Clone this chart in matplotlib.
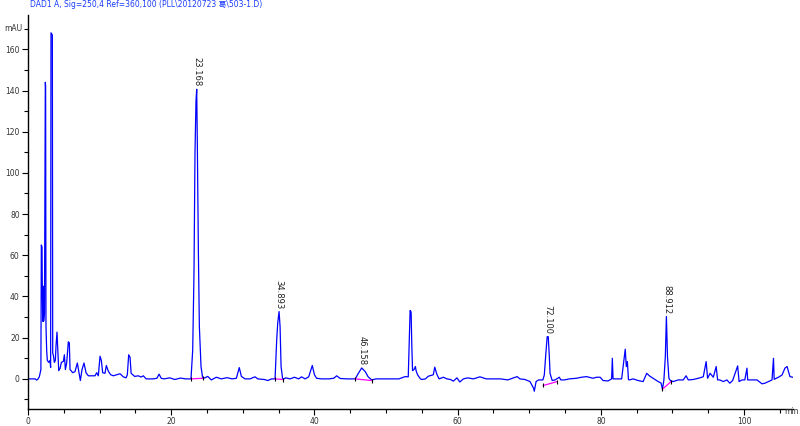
import numpy as np
import matplotlib
matplotlib.use("Agg")
import matplotlib.pyplot as plt
from matplotlib.ticker import MultipleLocator

# chromatogram trace (min, mAU)
time_min = [
    0, 1.0, 1.21, 1.4, 1.58, 1.80, 1.86, 1.96, 2.0, 2.05, 2.12, 2.18, 2.30, 2.42, 2.46, 2.51, 2.61, 2.70,
    2.89, 3.07, 3.16, 3.21, 3.40, 3.45, 3.54, 3.68, 3.82, 3.91, 4.05, 4.15, 4.29, 4.47, 4.66, 4.94, 5.08,
    5.22, 5.40, 5.63, 5.77, 5.87, 6.01, 6.24, 6.56, 6.89, 7.12, 7.31, 7.54, 7.82, 8.10, 8.43, 8.89, 9.36,
    9.59, 9.82, 10.06, 10.24, 10.43, 10.75, 10.94, 11.22, 11.55, 11.92, 12.38, 12.85, 13.31, 13.69, 13.87,
    14.06, 14.25, 14.4, 14.9, 15.4, 15.8, 16.1, 16.5, 17.5, 18.0, 18.3, 18.6, 19.0, 19.8, 20.5, 21.3, 22.0,
    22.76, 23.0, 23.18, 23.32, 23.46, 23.56, 23.65, 23.79, 23.93, 24.16, 24.39,
    24.7, 25.1, 25.6, 26.3, 27.0, 27.8, 28.5, 29.1, 29.5, 29.8, 30.3, 31.0, 31.7, 32.1, 33.0, 33.5, 34.0, 34.5,
    34.73, 34.87, 35.06, 35.2, 35.34, 35.57,
    36.0, 36.6, 37.2, 37.8, 38.2, 38.7, 39.2, 39.7, 40.0, 40.3, 41.0, 42.0, 42.7, 43.1, 43.6, 44.5, 45.7,
    46.1, 46.6, 47.1, 47.5, 48.0, 48.6, 50.0, 51.8, 52.65, 53.1, 53.25, 53.36, 53.5, 53.6, 53.7, 53.9, 54.1,
    54.2, 54.4, 54.8, 55.0, 55.5, 55.9, 56.6, 56.8, 57.1, 57.4, 58.0, 58.5, 59.0, 59.4, 59.9, 60.3, 60.8,
    61.4, 62.2, 63.1, 64.0, 65.0, 66.0, 67.0, 68.3, 68.7, 69.4, 70.1, 70.6, 70.7, 70.95, 71.3, 71.9,
    72.1, 72.3, 72.5, 72.65, 72.8, 72.9, 73.2, 73.6, 74.2, 74.4, 74.9, 75.6, 76.6, 77.3, 78.0, 78.9, 79.4,
    79.9, 80.3, 81.0, 81.5, 81.6, 81.7, 82.9, 83.4, 83.55, 83.7, 83.85, 84.0, 84.5, 85.2, 85.9, 86.4, 86.8,
    87.3, 88.0, 88.4, 88.6, 88.8, 89.0, 89.15, 89.3, 89.5, 89.7, 90.1, 90.8, 91.5, 91.9, 92.2, 92.9, 93.6,
    94.1, 94.3, 94.7, 94.9, 95.25, 95.7, 96.1, 96.3, 96.6, 97.1, 97.6, 98.0, 98.4, 99.1, 99.3, 99.7, 100.1,
    100.4, 100.5, 101.0, 101.8, 102.5, 102.9, 103.4, 103.9, 104.1, 104.2, 104.8, 105.3, 105.7, 106.0,
    106.4, 106.8,
]
signal_mau = [
    0, 0, -0.6, 0, 1.0, 4.5, 65, 64, 43, 28, 45, 28, 32, 144, 142, 26, 13.5, 9,
    8, 9, 5.5, 168, 167, 12.5, 11.5, 8, 9, 16, 22.7, 15, 4, 5, 8, 8.5, 11.7,
    4.5, 7.7, 18, 17.5, 4.5, 4, 3, 3.5, 7.7, 3, -0.8, 4.5, 7.7, 3, 1.5, 1.5, 1.5,
    3, 1.5, 11, 9, 3, 2.7, 6.5, 3.7, 2, 1.5, 2, 2.5, 1, 0.5, 2,
    11.7, 10.5, 2.7, 1.2, 1.5, 0.9, 1.5, 0, 0, 0.3, 2.3, 0.3, 0, 0.5, -0.3, 0.4, 0,
    0, 14, 51.5, 109.7, 135, 140.6, 112.8, 62.6, 25.4, 6, 0.5,
    0.5, 1.2, -0.5, 0.8, 0, 0.6, 0, 0.3, 5.5, 1.2, 0, 0, 1, 0, -0.3, -0.8, 0, 0,
    19, 27, 32.7, 25.4, 6, -0.3,
    0.5, 0, 0.8, 0, 1, 0, 1, 6.5, 2, 0.3, 0, 0, 0.3, 1.5, 0.2, 0, 0,
    2.5, 5.3, 3.5, 1, -0.5, 0, 0, 0, 1.1, 1, 20.5, 33.2, 32.5, 15.7, 4, 4.5, 6,
    3.9, 2, 0, -0.3, 0, 1.3, 2, 5.7, 2.2, 0, 0.8, 0, -0.3, -1.1, 0.5, -1.5, 0,
    0.5, 0, 1, 0, 0, 0, -0.5, 1.1, 0, -0.3, -1.3, -4.5, -6, -1.3, -0.5, -0.5,
    1.9, 11.6, 20.5, 20.5, 10.8, 2.7, -0.8, -0.5, 0.8, -0.5, -0.5, 0, 0.3, 0.8, 1.1, 0.3, 0.8,
    0.8, -0.8, -1, 0, 10, 0, 0, 14.4, 6, 8.4, -0.3, -0.5, 0, -0.8, -1.3, 2.7, 1.4,
    0.3, -1.3, -2, -5, -0.5, 10.8, 30.3, 10.8, 0.3, -0.8, -1.3, -0.5, -0.5, 1.5, -0.5, -0.3, 0.3,
    0.8, 1.1, 8.4, 0.3, 2.7, 0.8, 6, -0.5, -0.5, -1.3, -0.5, -2.1, -0.8, 6.3, -1.3, -0.5, -0.5,
    5.2, -0.5, -0.5, -0.5, -2.4, -2.1, -1.3, -0.5, 10, -0.2, 0.8, 1.9, 5.2, 6,
    1.1, 0.8,
]

# labelled peaks: apex position on the trace and printed retention time
peak_apex_t = [23.56, 35.06, 46.6, 72.6, 89.15]
peak_apex_v = [140.6, 32.7, 5.3, 20.5, 30.3]
peak_labels = ["23.168", "34.893", "46.158", "72.100", "88.912"]

# integration baselines (start t, start v, end t, end v)
base_t0 = [22.8, 34.5, 45.7, 71.95, 88.6]
base_v0 = [0, 0, 0, -3.2, -5]
base_t1 = [24.4, 35.6, 48.0, 73.9, 89.8]
base_v1 = [0.3, -0.3, -0.8, -1.3, -1.3]

fig = plt.figure(figsize=(8, 4.26), dpi=100)
ax = fig.add_axes([0.035, 0.040, 0.956, 0.925])

ax.plot(time_min, signal_mau, color="#0000ff", lw=0.9)

for t0, v0, t1, v1 in zip(base_t0, base_v0, base_t1, base_v1):
    ax.plot([t0, t1], [v0, v1], color="#ff00ff", lw=0.9)
    ax.plot([t0, t1], [v0, v1], ls="none", marker="|", ms=3, mew=0.8, color="black")

for t, v, lab in zip(peak_apex_t, peak_apex_v, peak_labels):
    ax.annotate(lab, (t, v), xytext=(0, 2), textcoords="offset points",
                rotation=270, ha="center", va="bottom", fontsize=6,
                color="#222222")

ax.set_xlim(0, 106.8)
ax.set_ylim(-14.6, 176.7)
ax.xaxis.set_major_locator(MultipleLocator(20))
ax.xaxis.set_minor_locator(MultipleLocator(5))
ax.yaxis.set_major_locator(MultipleLocator(20))
ax.yaxis.set_minor_locator(MultipleLocator(10))
ax.tick_params(which="major", length=4, width=0.8, labelsize=5.5, labelcolor="#333333", pad=2)
ax.tick_params(which="minor", length=3, width=0.8)

for s in ["top", "right"]:
    ax.spines[s].set_visible(False)
for s in ["left", "bottom"]:
    ax.spines[s].set_linewidth(1.0)

ax.text(-0.008, 0.965, "mAU", transform=ax.transAxes, ha="right", va="center",
        fontsize=5.5, color="#333333")
fig.text(0.999, 0.034, "min", ha="right", va="center",
         fontsize=5.5, color="#333333")

fig.text(0.037, 0.989, "DAD1 A, Sig=250,4 Ref=360,100 (PLL\\20120723 葛\\503-1.D)",
         ha="left", va="center", fontsize=5.5, color="#1a3cff",
         family=["DejaVu Sans", "Noto Sans CJK SC"])

fig.savefig("out.png", dpi=100)
